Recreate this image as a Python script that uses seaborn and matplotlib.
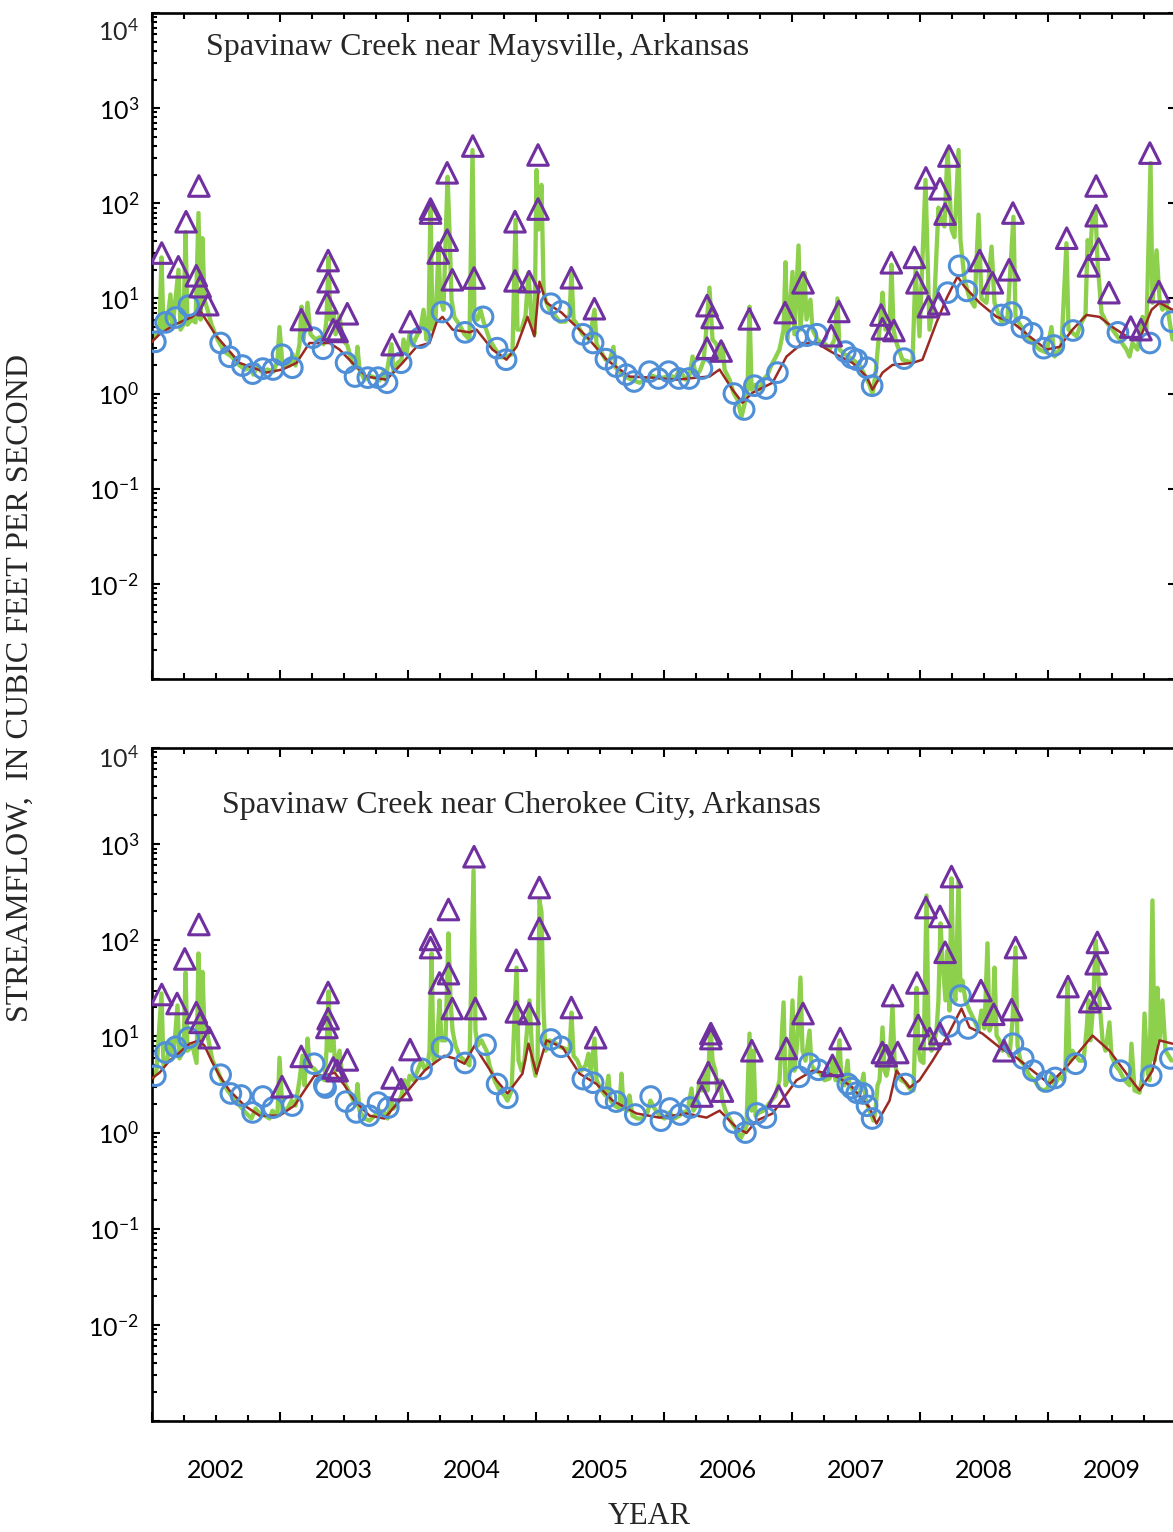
import matplotlib
matplotlib.use("Agg")
import matplotlib.pyplot as plt
import seaborn as sns
from matplotlib.ticker import FixedLocator, FixedFormatter, LogLocator, NullFormatter

# ---------------- DATA (decimal year, streamflow in cfs) ----------------
# Panel 1: Spavinaw Creek near Maysville
top_daily = [
    (2001.984, 4.7), (2002.008, 3.7), (2002.039, 4.2), (2002.063, 4.7), (2002.078, 27), (2002.094, 4.7),
    (2002.117, 4.9), (2002.148, 11), (2002.164, 4.9), (2002.211, 20), (2002.227, 4.7), (2002.25, 5.3),
    (2002.266, 50), (2002.281, 5.3), (2002.313, 6.0), (2002.344, 5.6), (2002.367, 79), (2002.383, 6.0),
    (2002.398, 43), (2002.414, 9.7), (2002.438, 7.6), (2002.469, 5.3), (2002.516, 3.7), (2002.570, 2.75),
    (2002.625, 2.45), (2002.688, 1.97), (2002.734, 1.79), (2002.766, 1.87), (2002.797, 1.58), (2002.828, 2.0),
    (2002.859, 1.70), (2002.906, 1.79), (2002.953, 1.70), (2002.984, 2.2), (2003.0, 5.0), (2003.023, 2.0),
    (2003.078, 1.97), (2003.102, 2.6), (2003.125, 1.97), (2003.156, 3.3), (2003.172, 8.2), (2003.188, 3.7),
    (2003.219, 9.0), (2003.242, 4.2), (2003.281, 3.7), (2003.313, 3.9), (2003.344, 3.3), (2003.367, 6.0),
    (2003.383, 27), (2003.398, 6.0), (2003.422, 7.2), (2003.438, 4.2), (2003.469, 6.6), (2003.492, 3.7),
    (2003.531, 3.2), (2003.563, 2.2), (2003.594, 1.87), (2003.609, 3.1), (2003.625, 1.79), (2003.664, 1.40),
    (2003.703, 1.55), (2003.742, 1.47), (2003.781, 1.37), (2003.813, 1.70), (2003.828, 1.40), (2003.875, 3.3),
    (2003.891, 1.70), (2003.922, 2.1), (2003.953, 2.27), (2003.969, 3.7), (2003.992, 2.6), (2004.016, 4.2),
    (2004.039, 3.2), (2004.078, 4.2), (2004.102, 4.7), (2004.125, 7.6), (2004.148, 3.7), (2004.164, 4.7),
    (2004.180, 100), (2004.195, 4.7), (2004.219, 6.0), (2004.242, 32), (2004.258, 9.7), (2004.281, 7.6),
    (2004.313, 190), (2004.328, 52), (2004.344, 9.7), (2004.367, 6.3), (2004.406, 5.3), (2004.445, 4.2),
    (2004.484, 3.7), (2004.508, 363), (2004.523, 6.0), (2004.547, 6.0), (2004.570, 7.6), (2004.594, 5.7),
    (2004.641, 3.7), (2004.688, 2.9), (2004.734, 2.4), (2004.773, 2.45), (2004.820, 2.6), (2004.844, 67),
    (2004.859, 4.7), (2004.891, 4.7), (2004.922, 6.6), (2004.945, 18.6), (2004.969, 6.0), (2004.992, 4.2),
    (2005.008, 224), (2005.023, 53), (2005.047, 156), (2005.063, 12.3), (2005.078, 9.7), (2005.109, 7.6),
    (2005.148, 6.7), (2005.188, 5.7), (2005.234, 5.7), (2005.266, 6.7), (2005.281, 19), (2005.297, 6.0),
    (2005.328, 5.3), (2005.367, 4.2), (2005.422, 3.7), (2005.461, 7.6), (2005.477, 3.3), (2005.516, 2.7),
    (2005.547, 2.27), (2005.578, 2.2), (2005.609, 3.1), (2005.625, 1.87), (2005.656, 1.70), (2005.703, 1.5),
    (2005.75, 1.40), (2005.813, 1.30), (2005.859, 1.40), (2005.906, 1.55), (2005.953, 1.47), (2006.0, 1.47),
    (2006.047, 1.55), (2006.094, 1.47), (2006.125, 1.79), (2006.172, 1.40), (2006.203, 1.55), (2006.227, 2.45),
    (2006.25, 1.58), (2006.281, 1.70), (2006.313, 2.2), (2006.328, 3.7), (2006.359, 13), (2006.383, 3.7),
    (2006.414, 3.3), (2006.438, 2.27), (2006.461, 3.3), (2006.477, 1.79), (2006.516, 1.40), (2006.547, 1.02),
    (2006.578, 0.86), (2006.609, 0.57), (2006.633, 0.77), (2006.656, 1.10), (2006.672, 8.2), (2006.688, 1.10),
    (2006.719, 1.24), (2006.75, 1.10), (2006.781, 1.40), (2006.813, 1.58), (2006.844, 2.0), (2006.875, 2.4),
    (2006.906, 2.9), (2006.938, 4.7), (2006.953, 24), (2006.969, 3.7), (2007.008, 19), (2007.023, 4.2),
    (2007.055, 36), (2007.070, 4.7), (2007.102, 18.6), (2007.117, 6.0), (2007.148, 9.7), (2007.164, 4.7),
    (2007.203, 3.7), (2007.234, 3.4), (2007.266, 3.3), (2007.297, 2.9), (2007.336, 3.7), (2007.359, 10),
    (2007.375, 2.9), (2007.414, 2.6), (2007.453, 2.4), (2007.492, 2.2), (2007.531, 2.0), (2007.570, 1.58),
    (2007.609, 1.24), (2007.633, 0.98), (2007.656, 1.58), (2007.680, 3.7), (2007.695, 6.0), (2007.711, 11.5),
    (2007.734, 4.7), (2007.766, 4.7), (2007.781, 22.6), (2007.797, 4.7), (2007.820, 3.4), (2007.867, 2.27),
    (2007.945, 2.1), (2007.969, 20), (2008.0, 4.0), (2008.047, 176), (2008.078, 4.7), (2008.117, 10),
    (2008.148, 90), (2008.172, 67), (2008.195, 57), (2008.219, 363), (2008.25, 53), (2008.273, 44),
    (2008.305, 363), (2008.320, 41), (2008.352, 15.7), (2008.391, 10), (2008.430, 8.2), (2008.461, 76),
    (2008.484, 10), (2008.523, 9.0), (2008.563, 35), (2008.586, 9.0), (2008.641, 5.6), (2008.688, 6.4),
    (2008.734, 72), (2008.75, 6.4), (2008.797, 5.0), (2008.836, 4.0), (2008.883, 3.4), (2008.938, 2.9),
    (2008.992, 2.7), (2009.031, 5.0), (2009.055, 2.45), (2009.109, 3.1), (2009.148, 38), (2009.164, 4.7),
    (2009.227, 4.0), (2009.266, 5.6), (2009.297, 6.7), (2009.313, 41), (2009.336, 32), (2009.352, 79),
    (2009.375, 85), (2009.391, 24), (2009.422, 7.1), (2009.461, 5.6), (2009.508, 4.7), (2009.563, 3.7),
    (2009.617, 2.9), (2009.641, 2.45), (2009.664, 3.4), (2009.703, 2.9), (2009.742, 6.4), (2009.773, 4.7),
    (2009.805, 265), (2009.820, 9.0), (2009.852, 32), (2009.875, 10), (2009.898, 7.6), (2009.930, 9.0),
    (2009.977, 3.7),
]
top_base = [
    (2001.984, 3.3), (2002.063, 4.2), (2002.180, 5.3), (2002.320, 6.4), (2002.375, 7.6), (2002.414, 6.3),
    (2002.508, 4.0), (2002.688, 2.1), (2002.898, 1.66), (2003.023, 1.79), (2003.133, 2.1), (2003.234, 3.4),
    (2003.313, 3.4), (2003.391, 3.4), (2003.469, 2.9), (2003.570, 2.1), (2003.680, 1.51), (2003.836, 1.40),
    (2003.961, 2.1), (2004.070, 3.1), (2004.172, 3.4), (2004.227, 5.6), (2004.273, 6.4), (2004.352, 4.7),
    (2004.484, 4.4), (2004.539, 4.7), (2004.664, 2.9), (2004.773, 2.27), (2004.852, 3.1), (2004.938, 6.4),
    (2004.992, 4.0), (2005.031, 15), (2005.086, 9.0), (2005.203, 7.1), (2005.398, 4.0), (2005.555, 2.27),
    (2005.734, 1.51), (2005.914, 1.47), (2006.102, 1.40), (2006.258, 1.47), (2006.359, 1.51), (2006.438, 1.79),
    (2006.539, 1.10), (2006.617, 0.80), (2006.695, 1.02), (2006.852, 1.30), (2006.961, 2.45), (2007.086, 3.4),
    (2007.195, 3.4), (2007.320, 2.7), (2007.477, 2.1), (2007.586, 1.51), (2007.633, 1.10), (2007.711, 1.66),
    (2007.789, 2.0), (2007.945, 2.1), (2008.023, 2.27), (2008.133, 5.6), (2008.211, 10), (2008.297, 17),
    (2008.352, 13.3), (2008.469, 9.0), (2008.602, 6.4), (2008.727, 5.6), (2008.859, 4.0), (2008.992, 2.9),
    (2009.094, 3.1), (2009.195, 4.7), (2009.305, 6.7), (2009.406, 6.4), (2009.508, 5.0), (2009.617, 4.0),
    (2009.719, 3.7), (2009.813, 7.6), (2009.875, 9.0), (2009.977, 7.6),
]
top_low = [
    (2002.03, 3.5), (2002.11, 5.6), (2002.19, 6.3), (2002.29, 8.4), (2002.54, 3.4), (2002.61, 2.44),
    (2002.71, 1.97), (2002.79, 1.62), (2002.87, 1.83), (2002.95, 1.79), (2003.02, 2.56), (2003.10, 1.87),
    (2003.26, 3.87), (2003.34, 2.96), (2003.52, 2.11), (2003.59, 1.51), (2003.69, 1.47), (2003.77, 1.47),
    (2003.84, 1.30), (2003.95, 2.11), (2004.10, 3.87), (2004.27, 7.2), (2004.45, 4.4), (2004.59, 6.4),
    (2004.70, 3.0), (2004.77, 2.27), (2005.12, 8.8), (2005.20, 7.3), (2005.37, 4.2), (2005.45, 3.4),
    (2005.55, 2.3), (2005.63, 1.92), (2005.71, 1.58), (2005.77, 1.34), (2005.89, 1.70), (2005.96, 1.44),
    (2006.04, 1.70), (2006.12, 1.44), (2006.20, 1.44), (2006.30, 1.83), (2006.55, 1.0), (2006.63, 0.68),
    (2006.71, 1.21), (2006.80, 1.13), (2006.89, 1.66), (2007.04, 3.9), (2007.12, 4.06), (2007.20, 4.2),
    (2007.42, 2.76), (2007.47, 2.38), (2007.51, 2.27), (2007.59, 1.87), (2007.63, 1.21), (2007.88, 2.33),
    (2008.22, 11.5), (2008.31, 22), (2008.37, 12.0), (2008.64, 6.7), (2008.72, 7.1), (2008.80, 5.0),
    (2008.88, 4.3), (2008.97, 3.0), (2009.05, 3.2), (2009.20, 4.6), (2009.55, 4.4), (2009.80, 3.4),
    (2009.97, 5.7),
]
top_high = [
    (2002.08, 30), (2002.21, 21.5), (2002.27, 64), (2002.37, 152), (2002.35, 17.3), (2002.38, 13.3),
    (2002.44, 8.6), (2003.17, 6.0), (2003.38, 25), (2003.38, 15), (2003.37, 9.0), (2003.42, 4.7),
    (2003.45, 4.5), (2003.53, 6.9), (2003.88, 3.27), (2004.02, 5.7), (2004.18, 87), (2004.18, 79),
    (2004.24, 30), (2004.31, 41), (2004.31, 209), (2004.35, 15.7), (2004.51, 400), (2004.52, 16.4),
    (2004.84, 64), (2004.84, 15.3), (2004.95, 15), (2005.02, 322), (2005.02, 87), (2005.28, 16.5),
    (2005.46, 7.8), (2006.34, 8.4), (2006.38, 6.3), (2006.34, 3.0), (2006.45, 2.8), (2006.67, 6.1),
    (2006.95, 7.1), (2007.09, 14.6), (2007.37, 7.3), (2007.31, 4.06), (2007.78, 23.7), (2007.70, 6.7),
    (2007.71, 4.8), (2007.80, 4.6), (2007.96, 27), (2007.98, 14.6), (2008.05, 185), (2008.16, 142),
    (2008.20, 77), (2008.07, 8.2), (2008.15, 8.8), (2008.23, 314), (2008.47, 25), (2008.57, 14.6),
    (2008.73, 79), (2008.70, 20), (2009.15, 43), (2009.38, 152), (2009.38, 74), (2009.40, 33),
    (2009.32, 22), (2009.48, 11.5), (2009.65, 5.0), (2009.73, 4.7), (2009.80, 337), (2009.87, 11.8),
]

# Panel 2: Spavinaw Creek near Cherokee City
bot_daily = [
    (2001.984, 6.0), (2002.008, 3.65), (2002.039, 4.4), (2002.078, 28), (2002.094, 5.0), (2002.125, 5.9),
    (2002.148, 9.1), (2002.172, 6.3), (2002.203, 21), (2002.219, 5.9), (2002.25, 7.1), (2002.266, 46),
    (2002.281, 7.1), (2002.320, 8.0), (2002.352, 5.3), (2002.367, 73), (2002.383, 8.0), (2002.398, 47),
    (2002.414, 11.5), (2002.438, 10.2), (2002.477, 5.6), (2002.516, 4.4), (2002.547, 3.5), (2002.594, 2.74),
    (2002.641, 2.26), (2002.688, 1.91), (2002.734, 1.62), (2002.781, 1.40), (2002.813, 1.78), (2002.844, 1.58),
    (2002.883, 1.50), (2002.922, 1.40), (2002.945, 1.69), (2002.984, 1.50), (2003.0, 6.0), (2003.023, 1.69),
    (2003.063, 1.78), (2003.094, 2.15), (2003.125, 1.91), (2003.156, 3.5), (2003.180, 6.3), (2003.195, 3.1),
    (2003.219, 9.5), (2003.234, 5.0), (2003.273, 4.6), (2003.313, 3.9), (2003.352, 3.5), (2003.367, 7.1),
    (2003.383, 29.4), (2003.398, 7.1), (2003.422, 9.1), (2003.438, 4.4), (2003.469, 7.1), (2003.492, 3.65),
    (2003.531, 2.87), (2003.563, 2.37), (2003.594, 1.91), (2003.609, 3.2), (2003.625, 1.69), (2003.664, 1.40),
    (2003.703, 1.33), (2003.742, 1.50), (2003.781, 1.69), (2003.820, 1.62), (2003.844, 1.40), (2003.875, 2.15),
    (2003.891, 1.78), (2003.922, 2.0), (2003.953, 2.43), (2003.977, 3.5), (2004.0, 2.87), (2004.016, 3.9),
    (2004.047, 3.5), (2004.078, 4.4), (2004.109, 5.6), (2004.133, 4.6), (2004.156, 4.9), (2004.172, 7.1),
    (2004.188, 73), (2004.203, 5.6), (2004.227, 6.3), (2004.25, 23.7), (2004.266, 9.1), (2004.297, 9.1),
    (2004.320, 118), (2004.336, 23.7), (2004.352, 11.5), (2004.375, 8.0), (2004.406, 6.3), (2004.445, 5.6),
    (2004.484, 5.0), (2004.516, 532), (2004.531, 11.5), (2004.547, 8.0), (2004.578, 9.1), (2004.617, 7.1),
    (2004.641, 5.0), (2004.680, 3.5), (2004.719, 2.74), (2004.758, 2.43), (2004.781, 2.15), (2004.813, 2.74),
    (2004.852, 52), (2004.867, 5.6), (2004.891, 4.4), (2004.914, 5.6), (2004.953, 23.7), (2004.977, 5.6),
    (2005.0, 3.9), (2005.016, 5.6), (2005.031, 260), (2005.047, 195), (2005.063, 18.6), (2005.078, 7.1),
    (2005.109, 9.1), (2005.148, 8.7), (2005.188, 7.8), (2005.227, 7.5), (2005.266, 7.1), (2005.281, 17.7),
    (2005.297, 6.3), (2005.328, 5.6), (2005.359, 4.4), (2005.391, 5.0), (2005.414, 6.6), (2005.430, 3.9),
    (2005.461, 9.5), (2005.477, 3.5), (2005.516, 2.74), (2005.547, 2.43), (2005.570, 3.9), (2005.586, 2.15),
    (2005.617, 1.91), (2005.656, 1.78), (2005.672, 4.1), (2005.688, 1.78), (2005.719, 1.69), (2005.734, 2.43),
    (2005.758, 1.50), (2005.797, 1.40), (2005.836, 1.40), (2005.875, 1.62), (2005.898, 2.15), (2005.930, 1.78),
    (2005.969, 1.50), (2006.008, 1.40), (2006.047, 1.62), (2006.086, 1.40), (2006.125, 1.50), (2006.156, 1.62),
    (2006.188, 1.69), (2006.219, 2.87), (2006.234, 1.69), (2006.258, 1.91), (2006.281, 3.5), (2006.305, 2.74),
    (2006.328, 4.4), (2006.344, 2.74), (2006.367, 13), (2006.383, 5.6), (2006.406, 4.4), (2006.422, 2.74),
    (2006.438, 3.5), (2006.461, 2.15), (2006.484, 1.69), (2006.516, 1.40), (2006.547, 1.18), (2006.578, 1.05),
    (2006.602, 0.87), (2006.625, 0.99), (2006.648, 1.18), (2006.672, 10.7), (2006.688, 1.69), (2006.703, 7.1),
    (2006.719, 1.50), (2006.75, 1.62), (2006.781, 1.69), (2006.813, 1.91), (2006.844, 2.15), (2006.875, 2.43),
    (2006.906, 3.5), (2006.938, 22.6), (2006.953, 3.1), (2006.984, 3.9), (2007.008, 23.7), (2007.023, 4.4),
    (2007.047, 9.1), (2007.070, 41), (2007.086, 7.1), (2007.109, 5.6), (2007.141, 11.5), (2007.156, 5.0),
    (2007.188, 4.4), (2007.219, 4.2), (2007.258, 3.5), (2007.297, 3.65), (2007.320, 5.6), (2007.344, 3.5),
    (2007.375, 9.1), (2007.391, 3.3), (2007.414, 3.1), (2007.438, 5.6), (2007.453, 3.1), (2007.492, 2.6),
    (2007.531, 2.43), (2007.563, 4.1), (2007.578, 2.26), (2007.609, 1.69), (2007.641, 1.33), (2007.656, 1.69),
    (2007.672, 3.1), (2007.688, 3.5), (2007.711, 12.4), (2007.727, 4.4), (2007.742, 3.9), (2007.766, 5.6),
    (2007.789, 21), (2007.805, 5.6), (2007.828, 3.9), (2007.859, 3.5), (2007.891, 3.3), (2007.922, 2.87),
    (2007.953, 2.74), (2007.977, 32), (2007.992, 7.1), (2008.008, 5.6), (2008.031, 5.3), (2008.055, 292),
    (2008.070, 11.5), (2008.094, 7.1), (2008.117, 9.1), (2008.133, 11.5), (2008.148, 23.7), (2008.164, 150),
    (2008.180, 62), (2008.203, 23.7), (2008.219, 78), (2008.234, 18.6), (2008.25, 440), (2008.266, 30),
    (2008.281, 23.7), (2008.305, 419), (2008.320, 30), (2008.336, 38), (2008.359, 23.7), (2008.391, 18.6),
    (2008.430, 14.6), (2008.461, 11.5), (2008.484, 18.6), (2008.508, 12.1), (2008.531, 93), (2008.547, 11.5),
    (2008.570, 14.6), (2008.586, 52), (2008.602, 10.2), (2008.625, 9.1), (2008.648, 7.1), (2008.672, 8.0),
    (2008.703, 6.3), (2008.727, 14.6), (2008.75, 84), (2008.766, 8.0), (2008.789, 5.6), (2008.820, 5.0),
    (2008.859, 3.9), (2008.898, 3.5), (2008.938, 2.87), (2008.969, 2.74), (2009.0, 2.87), (2009.031, 3.9),
    (2009.055, 3.1), (2009.094, 3.9), (2009.125, 3.5), (2009.141, 5.0), (2009.156, 36), (2009.172, 5.6),
    (2009.195, 7.1), (2009.219, 6.3), (2009.25, 5.6), (2009.281, 5.6), (2009.305, 11.5), (2009.320, 23.7),
    (2009.336, 9.1), (2009.359, 23.7), (2009.375, 99.5), (2009.391, 62), (2009.406, 23.7), (2009.430, 9.1),
    (2009.453, 7.1), (2009.484, 14), (2009.5, 6.3), (2009.531, 5.0), (2009.563, 4.4), (2009.602, 3.5),
    (2009.641, 3.1), (2009.656, 8.4), (2009.680, 2.74), (2009.719, 2.6), (2009.742, 3.9), (2009.758, 17.3),
    (2009.781, 4.4), (2009.797, 3.5), (2009.820, 260), (2009.836, 5.6), (2009.859, 32), (2009.875, 9.1),
    (2009.898, 23.7), (2009.922, 7.1), (2009.969, 5.6),
]
bot_base = [
    (2001.984, 3.5), (2002.063, 4.2), (2002.141, 5.6), (2002.219, 6.8), (2002.297, 8.4), (2002.375, 9.1),
    (2002.414, 8.0), (2002.469, 5.6), (2002.531, 3.9), (2002.609, 2.74), (2002.727, 1.91), (2002.844, 1.50),
    (2003.0, 1.50), (2003.117, 1.91), (2003.195, 2.74), (2003.273, 3.9), (2003.352, 3.9), (2003.430, 4.2),
    (2003.508, 3.1), (2003.586, 2.15), (2003.703, 1.50), (2003.820, 1.40), (2003.938, 2.15), (2004.055, 3.3),
    (2004.133, 4.4), (2004.211, 5.3), (2004.289, 6.3), (2004.367, 5.9), (2004.445, 5.2), (2004.523, 8.0),
    (2004.563, 6.6), (2004.695, 3.5), (2004.781, 2.55), (2004.898, 4.1), (2004.945, 8.4), (2005.008, 4.1),
    (2005.086, 9.1), (2005.211, 7.7), (2005.344, 4.1), (2005.477, 3.2), (2005.602, 2.15), (2005.789, 1.58),
    (2005.969, 1.43), (2006.180, 1.58), (2006.336, 1.43), (2006.438, 1.69), (2006.570, 1.13), (2006.648, 0.99),
    (2006.727, 1.33), (2006.852, 1.58), (2007.039, 3.5), (2007.164, 4.4), (2007.297, 4.1), (2007.375, 3.7),
    (2007.477, 2.94), (2007.609, 1.82), (2007.664, 1.24), (2007.766, 2.15), (2007.820, 4.4), (2007.922, 2.94),
    (2008.0, 3.5), (2008.102, 5.6), (2008.211, 9.7), (2008.328, 19.5), (2008.391, 12.4), (2008.492, 10.7),
    (2008.625, 7.7), (2008.758, 6.0), (2008.883, 4.4), (2009.016, 3.2), (2009.148, 4.8), (2009.352, 10.2),
    (2009.484, 7.1), (2009.617, 4.1), (2009.719, 2.74), (2009.820, 4.4), (2009.875, 9.1), (2009.977, 8.4),
]
bot_low = [
    (2002.03, 3.9), (2002.11, 6.8), (2002.19, 7.8), (2002.29, 9.7), (2002.54, 4.0), (2002.62, 2.55),
    (2002.70, 2.43), (2002.79, 1.62), (2002.87, 2.37), (2002.95, 1.82), (2003.10, 1.91), (2003.27, 5.2),
    (2003.36, 2.94), (2003.35, 3.1), (2003.52, 2.1), (2003.60, 1.62), (2003.70, 1.5), (2003.77, 2.05),
    (2003.85, 1.82), (2004.11, 4.6), (2004.27, 7.7), (2004.45, 5.3), (2004.61, 8.2), (2004.70, 3.2),
    (2004.78, 2.3), (2005.12, 9.3), (2005.20, 7.8), (2005.37, 3.6), (2005.45, 3.3), (2005.55, 2.3),
    (2005.63, 2.1), (2005.78, 1.54), (2005.90, 2.37), (2005.98, 1.33), (2006.05, 1.78), (2006.13, 1.54),
    (2006.21, 1.82), (2006.55, 1.27), (2006.64, 1.0), (2006.73, 1.58), (2006.80, 1.43), (2007.06, 3.8),
    (2007.14, 5.2), (2007.21, 4.5), (2007.44, 3.2), (2007.47, 2.9), (2007.51, 2.6), (2007.56, 2.55),
    (2007.59, 1.9), (2007.63, 1.4), (2007.89, 3.2), (2008.23, 12.7), (2008.32, 26.6), (2008.38, 12.1),
    (2008.73, 8.4), (2008.81, 5.9), (2008.89, 4.4), (2008.99, 3.4), (2009.06, 3.7), (2009.22, 5.2),
    (2009.57, 4.4), (2009.81, 3.9), (2009.96, 5.9),
]
bot_high = [
    (2002.08, 27.3), (2002.20, 22), (2002.26, 64), (2002.37, 146), (2002.35, 17.7), (2002.38, 14),
    (2002.45, 9.7), (2003.02, 3.0), (2003.17, 6.2), (2003.38, 28.6), (2003.38, 15.3), (2003.37, 12.4),
    (2003.42, 4.7), (2003.45, 4.4), (2003.53, 5.7), (2003.88, 3.7), (2003.95, 2.8), (2004.02, 7.3),
    (2004.18, 102), (2004.18, 84), (2004.25, 36), (2004.32, 45), (2004.32, 209), (2004.35, 19.5),
    (2004.52, 740), (2004.53, 19.5), (2004.85, 62), (2004.85, 18), (2004.95, 17.3), (2005.03, 354),
    (2005.03, 133), (2005.28, 20), (2005.47, 9.7), (2006.30, 2.4), (2006.35, 4.2), (2006.37, 10.7),
    (2006.37, 9.5), (2006.46, 2.7), (2006.69, 7.1), (2006.90, 2.4), (2006.96, 7.5), (2007.09, 17.3),
    (2007.32, 5.0), (2007.38, 9.5), (2007.71, 6.8), (2007.74, 6.3), (2007.79, 26.6), (2007.83, 6.8),
    (2007.98, 36), (2007.99, 13), (2008.05, 219), (2008.08, 9.5), (2008.16, 177), (2008.16, 10.7),
    (2008.20, 75), (2008.25, 460), (2008.48, 30), (2008.58, 17), (2008.66, 7.1), (2008.72, 19),
    (2008.75, 84), (2009.16, 33), (2009.33, 23), (2009.38, 57), (2009.39, 95), (2009.41, 25),
]

panel_titles = ["Spavinaw Creek near Maysville, Arkansas",
                "Spavinaw Creek near Cherokee City, Arkansas"]
years = [2002, 2003, 2004, 2005, 2006, 2007, 2008, 2009]
decades = [1e-3, 1e-2, 1e-1, 1e0, 1e1, 1e2, 1e3, 1e4]
decade_labels = ["", r"$\mathregular{10^{-2}}$", r"$\mathregular{10^{-1}}$", r"$\mathregular{10^{0}}$",
                 r"$\mathregular{10^{1}}$", r"$\mathregular{10^{2}}$", r"$\mathregular{10^{3}}$", ""]
top_label = r"$\mathregular{10^{4}}$"

# ---------------- STYLE ----------------
GREEN = "#8dd04b"
RED = "#9a2a22"
BLUE = "#4f8fd8"
PURPLE = "#7030a0"
SANS = ["Lato", "DejaVu Sans"]
SERIF = ["Liberation Serif", "DejaVu Serif"]

sns.set_style("ticks")
plt.rcParams["font.family"] = SANS
plt.rcParams["mathtext.fontset"] = "custom"
plt.rcParams["mathtext.rm"] = "Lato"
plt.rcParams["mathtext.it"] = "Lato:italic"
plt.rcParams["mathtext.bf"] = "Lato:bold"

W, H = 1173, 1532
fig = plt.figure(figsize=(W / 100, H / 100), dpi=100)
ax1 = fig.add_axes([151.5 / W, 1 - 679 / H, 1024 / W, 666 / H])
ax2 = fig.add_axes([151.5 / W, 1 - 1421 / H, 1024 / W, 673 / H])


def split(pairs):
    return [p[0] for p in pairs], [p[1] for p in pairs]


def draw(ax, daily, base, low, high, title, tx, ty, lab_off, bottom):
    ax.set_yscale("log")
    t, q = split(daily)
    sns.lineplot(x=t, y=q, ax=ax, color=GREEN, lw=3.1, estimator=None, sort=False, zorder=2)
    t, q = split(base)
    sns.lineplot(x=t, y=q, ax=ax, color=RED, lw=1.8, estimator=None, sort=False, zorder=3)
    t, q = split(low)
    sns.scatterplot(x=t, y=q, ax=ax, marker="o", s=200, facecolor="none", edgecolor=BLUE,
                    linewidth=2.2, zorder=4, clip_on=True)
    t, q = split(high)
    sns.scatterplot(x=t, y=q, ax=ax, marker="^", s=220, facecolor="none", edgecolor=PURPLE,
                    linewidth=2.2, zorder=5, clip_on=True)
    ax.set_xlim(2002, 2010)
    ax.set_ylim(1e-3, 1e4)
    ax.set_xlabel("")
    ax.set_ylabel("")

    for s in ["left", "bottom", "top", "right"]:
        ax.spines[s].set_linewidth(1.9)
        ax.spines[s].set_color("black")
        ax.spines[s].set_visible(True)

    ax.yaxis.set_major_locator(FixedLocator(decades))
    ax.yaxis.set_major_formatter(FixedFormatter(decade_labels))
    ax.yaxis.set_minor_locator(LogLocator(base=10, subs=[2, 3, 4, 5, 6, 7, 8, 9], numticks=30))
    ax.yaxis.set_minor_formatter(NullFormatter())

    ax.xaxis.set_major_locator(FixedLocator([y for y in years] + [2010]))
    ax.xaxis.set_major_formatter(NullFormatter())
    quarters, qlabels = [], []
    for y in years:
        for k, f in enumerate([0.25, 0.5, 0.75]):
            quarters.append(y + f)
            qlabels.append(str(y) if (bottom and k == 1) else "")
    ax.xaxis.set_minor_locator(FixedLocator(quarters))
    ax.xaxis.set_minor_formatter(FixedFormatter(qlabels))

    ax.tick_params(axis="both", which="both", direction="in", top=True, right=False,
                   width=1.5, colors="black")
    ax.tick_params(axis="y", which="major", length=6, labelsize=18, pad=9)
    ax.tick_params(axis="y", which="minor", length=3.6)
    ax.tick_params(axis="x", which="major", length=6.8)
    ax.tick_params(axis="x", which="minor", length=4.6, labelsize=18, pad=27,
                   labelbottom=bottom)
    ax.tick_params(axis="x", which="major", labelbottom=False)

    ax.annotate(top_label, xy=(0, 1e4), xycoords=("axes fraction", "data"),
                xytext=(-9, -lab_off), textcoords="offset points", ha="right",
                va="center_baseline", fontsize=18, family=SANS, annotation_clip=False)

    ax.text(tx, ty, title, transform=ax.transAxes, family=SERIF, fontsize=23,
            ha="left", va="center")
    leg = ax.get_legend()
    if leg is not None:
        leg.remove()


draw(ax1, top_daily, top_base, top_low, top_high, panel_titles[0], 0.053, 0.948, 12, False)
ax1.tick_params(axis="y", which="major", right=True, length=6)
draw(ax2, bot_daily, bot_base, bot_low, bot_high, panel_titles[1], 0.069, 0.915, 6, True)

fig.text(20 / W, 1 - 688 / H, "STREAMFLOW,  IN CUBIC FEET PER SECOND", rotation=90,
         family=SERIF, fontsize=23, ha="center", va="center")
fig.text(649 / W, 1 - 1516 / H, "YEAR", family=SERIF, fontsize=22, ha="center", va="center")

fig.savefig("out.png", dpi=100)
